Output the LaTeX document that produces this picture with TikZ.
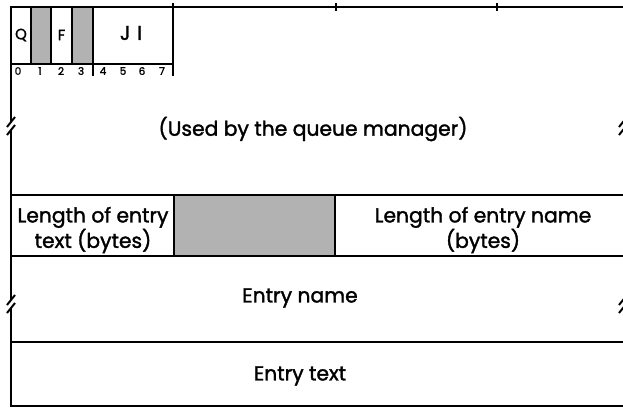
\documentclass[tikz,border=0pt]{standalone}
\usepackage{fontspec}
\setmainfont{Poppins}[RawFeature={embolden=1.6}]
\begin{document}
\begin{tikzpicture}[x=1pt,y=-1pt,
  frame/.style={line width=2.2pt},
  rule/.style={line width=1.8pt},
  brk/.style={line width=2pt},
  shadecell/.style={fill=black!30},
  biglbl/.style={font=\fontsize{20.3}{24}\selectfont, align=center, inner sep=0pt},
  cell/.style={font=\fontsize{15}{16}\selectfont, inner sep=0pt},
  jilbl/.style={font=\fontsize{20}{20}\selectfont, inner sep=0pt},
  bit/.style={font=\fontsize{10.5}{11}\selectfont, inner sep=0pt}]
\useasboundingbox (0,0) rectangle (623,409);
\clip (0,0) rectangle (623,409);
% shaded cells
\fill[shadecell] (31,7) rectangle (51,64);
\fill[shadecell] (72,7) rectangle (93,64);
\fill[shadecell] (174,195) rectangle (335,256);
% top line with ticks
\draw[frame] (10,7) -- (623,7);
\foreach \tx in {336,497} \draw[rule] (\tx,3) -- (\tx,11);
% byte box
\draw[rule] (11,64) -- (173,64);
\foreach \vx in {31,51,72,93} \draw[rule] (\vx,7) -- (\vx,64);
\draw[rule] (93,64) -- (93,76);
\draw[rule] (173,3) -- (173,76);
% left border with breaks
\draw[frame] (11,6) -- (11,122);
\draw[frame] (11,130) -- (11,300);
\draw[frame] (11,308) -- (11,407);
\foreach \by in {122,130,300,308} {
  \draw[brk] (7,\by+5) -- (15,\by-5);
  \draw[brk] (619,\by+5) -- (627,\by-5);
}
% horizontal rules
\draw[rule] (11,195) -- (623,195);
\draw[rule] (11,256) -- (623,256);
\draw[rule] (11,342) -- (623,342);
\draw[frame] (11,406) -- (623,406);
\draw[rule] (174,195) -- (174,256);
\draw[rule] (335,195) -- (335,256);
% labels
\node[cell] (q) at (21,35) {Q};
\node[cell] (f) at (61.5,35) {F};
\node[jilbl] (ji) at (131,33) {J\,\,I};
\foreach \d/\bx in {0/18,1/40,2/61,3/81,4/103,5/123,6/142,7/162}
  \node[bit] (b\d) at (\bx,71) {\d};
\node[biglbl] (usedby) at (313,129) {(Used by the queue manager)};
\node[biglbl] (lentext) at (93,230) {Length of entry\\text (bytes)};
\node[biglbl] (lenname) at (483,230) {Length of entry name\\(bytes)};
\node[biglbl] (ename) at (300,298) {Entry name};
\node[biglbl] (etext) at (300,376) {Entry text};
\end{tikzpicture}
\end{document}
